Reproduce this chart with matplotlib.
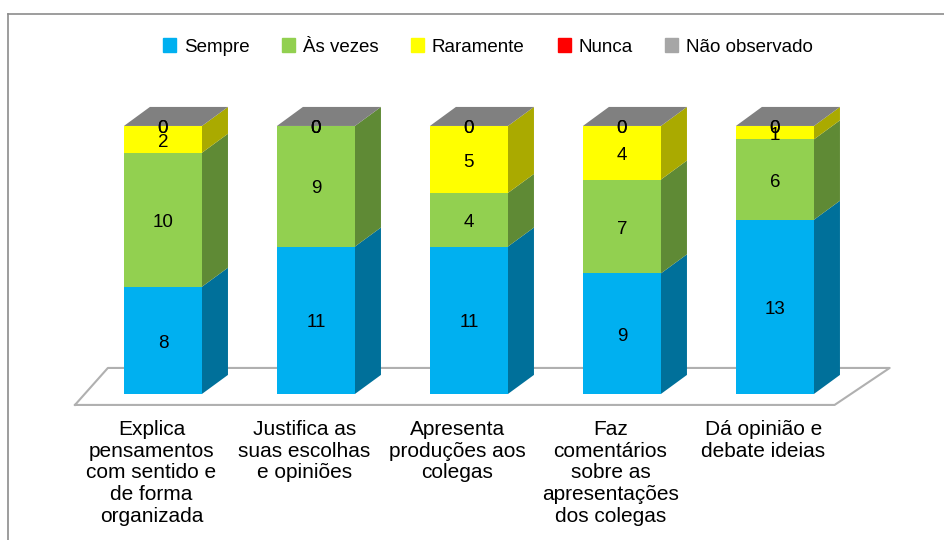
import matplotlib.pyplot as plt
from matplotlib.patches import Patch
import numpy as np

categories = ["Explica\npensamentos\ncom sentido e\nde forma\norganizada",
              "Justifica as\nsuas escolhas\ne opiniões",
              "Apresenta\nproduções aos\ncolegas",
              "Faz\ncomentários\nsobre as\napresentações\ndos colegas",
              "Dá opinião e\ndebate ideias"]
series = ["Sempre", "Às vezes", "Raramente", "Nunca", "Não observado"]
sempre = [8, 11, 11, 9, 13]
as_vezes = [10, 9, 4, 7, 6]
raramente = [2, 0, 5, 4, 1]
nunca = [0, 0, 0, 0, 0]
nao_observado = [0, 0, 0, 0, 0]
values = [sempre, as_vezes, raramente, nunca, nao_observado]

front = ["#00B0F0", "#92D050", "#FFFF00", "#FF0000", "#A6A6A6"]
side = ["#00709A", "#5F8A35", "#AAAA00", "#A00000", "#6E6E6E"]
top_col = "#808080"

fig = plt.figure(figsize=(9.44, 5.4), dpi=100)
ax = fig.add_axes([0, 0, 1, 1])
ax.set_xlim(-1.065, 5.105)
ax.set_ylim(-10.9, 29.4)
ax.axis("off")

# outer frame (only top/left visible in the crop)
fig.add_artist(plt.Line2D([8/944, 8/944], [0, 1 - 14/540], color="#8c8c8c", lw=1.2))
fig.add_artist(plt.Line2D([8/944, 1], [1 - 14/540, 1 - 14/540], color="#8c8c8c", lw=1.2))

x = np.arange(len(categories))
w = 0.51
dx, dy = 0.17, 1.42

# floor
fx = [-0.575, 4.39, 4.75, -0.36, -0.575]
fy = [-0.82, -0.82, 1.94, 1.94, -0.82]
ax.fill(fx, fy, color="white", zorder=1)
ax.plot(fx, fy, color="#b0b0b0", lw=1.5, zorder=1)

bottom = np.zeros(len(categories))
for i, vals in enumerate(values):
    vals = np.array(vals, dtype=float)
    ax.bar(x, vals, w, bottom=bottom, color=front[i], zorder=3, linewidth=0)
    for j in range(len(x)):
        if vals[j] > 0:
            xr = x[j] + w / 2
            y0, y1 = bottom[j], bottom[j] + vals[j]
            ax.fill([xr, xr + dx, xr + dx, xr], [y0, y0 + dy, y1 + dy, y1],
                    color=side[i], zorder=2, lw=0)
        ax.text(x[j], bottom[j] + vals[j] / 2 - 0.2, "%d" % vals[j], ha="center", va="center",
                fontsize=13.5, family="Liberation Sans", zorder=5)
    bottom += vals

# top faces
for j in range(len(x)):
    xl, xr, t = x[j] - w / 2, x[j] + w / 2, bottom[j]
    ax.fill([xl, xl + dx, xr + dx, xr], [t, t + dy, t + dy, t], color=top_col, zorder=4, lw=0)

for j, lab in enumerate(categories):
    ax.text(x[j] - 0.075, -1.95, lab, ha="center", va="top", fontsize=15,
            family="Liberation Sans", linespacing=1.18)

handles = [Patch(color=c) for c in front]
fig.legend(handles, series, loc="center", bbox_to_anchor=(488/944, 1 - 47/540), ncol=5,
           frameon=False, handlelength=0.7, handleheight=0.7, handletextpad=0.4,
           columnspacing=1.75, prop={"family": ["Liberation Sans Narrow", "Liberation Sans"], "size": 13.5})

fig.savefig("out.png", dpi=100)
